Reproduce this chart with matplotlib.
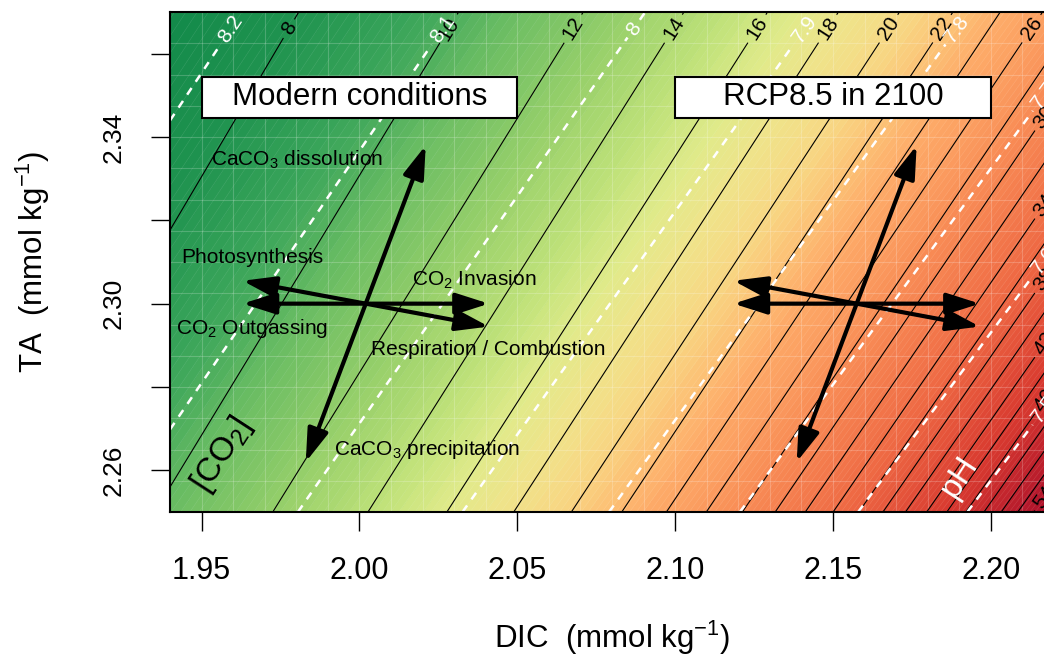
import numpy as np
import matplotlib.pyplot as plt
from matplotlib.colors import Normalize, LinearSegmentedColormap
from matplotlib.patches import Rectangle

plt.rcParams['font.family'] = ['Liberation Sans', 'DejaVu Sans']
plt.rcParams['mathtext.fontset'] = 'custom'
plt.rcParams['mathtext.rm'] = 'Liberation Sans'
plt.rcParams['mathtext.it'] = 'Liberation Sans:italic'

# axis ranges (mmol/kg)
dic_lim = [1.94, 2.22]
ta_lim = [2.25, 2.37]
x_ticks = [1.95, 2.00, 2.05, 2.10, 2.15, 2.20]
y_ticks = [2.26, 2.28, 2.30, 2.32, 2.34, 2.36]
y_tick_labels = ['2.26', '', '2.30', '', '2.34', '']

# seawater state used for the isolines
temp_c = 25.0
salinity = 35.0

co2_levels = np.arange(4, 90, 2)          # umol/kg
ph_levels = [7.5, 7.6, 7.7, 7.8, 7.9, 8.0, 8.1, 8.2, 8.3]
co2_top_labels = [8, 10, 12, 14, 16, 18, 20, 22, 26]
co2_side_labels = [30, 34, 38, 42, 46, 54]
ph_top_labels = [8.2, 8.1, 8.0, 7.9, 7.8]
ph_side_labels = [7.7, 7.6, 7.5]

# colour ramp for pH, red (acid) to green
ramp_ph = [7.38, 7.45, 7.52, 7.61, 7.70, 7.735, 7.77, 7.806, 7.84, 7.878,
           7.913, 7.946, 8.01, 8.07, 8.12, 8.176, 8.23, 8.32]
ramp_colors = ['#a50026', '#b61a2c', '#d8392f', '#ee6843', '#f88b55', '#fb9c5f',
               '#fdaa68', '#fcc276', '#f7d884', '#efe38a', '#e0ea8a', '#c5e47c',
               '#98d06a', '#6bbd63', '#3aa55a', '#1f934f', '#138a4a', '#0b7a40']

# starting points of the process vectors
modern = (2.002, 2.300)
rcp85 = (2.1575, 2.300)

# process vectors (dDIC, dTA) and where their names go
process_names = ['CaCO$_3$ dissolution', 'CaCO$_3$ precipitation', 'Photosynthesis',
                 'Respiration / Combustion', 'CO$_2$ Invasion', 'CO$_2$ Outgassing']
process_ddic = [0.019, -0.019, -0.039, 0.039, 0.039, -0.039]
process_dta = [0.038, -0.038, 0.0055, -0.0055, 0.0, 0.0]
name_dic = [1.9531, 1.9920, 1.9436, 2.0038, 2.0165, 1.9420]
name_ta = [2.3346, 2.2650, 2.3110, 2.2890, 2.3058, 2.2940]

box_titles = ['Modern conditions', 'RCP8.5 in 2100']
box_left = [1.95, 2.10]


def carbonate_system(dic, ta, temp_c, sal):
    """pH (total scale) and CO2* from DIC and TA, both in mol/kg."""
    T = temp_c + 273.15
    lnT = np.log(T)
    sq = np.sqrt(sal)
    k1 = 10 ** -(3633.86 / T - 61.2172 + 9.6777 * lnT - 0.011555 * sal + 0.0001152 * sal ** 2)
    k2 = 10 ** -(471.78 / T + 25.9290 - 3.16967 * lnT - 0.01781 * sal + 0.0001122 * sal ** 2)
    kb = np.exp((-8966.90 - 2890.53 * sq - 77.942 * sal + 1.728 * sal * sq - 0.0996 * sal ** 2) / T
                + 148.0248 + 137.1942 * sq + 1.62142 * sal
                - (24.4344 + 25.085 * sq + 0.2474 * sal) * lnT + 0.053105 * sq * T)
    kw = np.exp(148.9652 - 13847.26 / T - 23.6521 * lnT
                + (118.67 / T - 5.977 + 1.0495 * lnT) * sq - 0.01615 * sal)
    bt = 0.0004157 * sal / 35

    lo = np.full_like(dic, 6.0)
    hi = np.full_like(dic, 10.0)
    for _ in range(50):
        mid = 0.5 * (lo + hi)
        h = 10 ** -mid
        ta_calc = (dic * (k1 * h + 2 * k1 * k2) / (h * h + k1 * h + k1 * k2)
                   + bt * kb / (kb + h) + kw / h - h)
        too_high = ta_calc > ta
        hi = np.where(too_high, mid, hi)
        lo = np.where(too_high, lo, mid)
    ph = 0.5 * (lo + hi)
    h = 10 ** -ph
    co2 = dic * h * h / (h * h + k1 * h + k1 * k2)
    return ph, co2


dic = np.linspace(dic_lim[0], dic_lim[1], 561)
ta = np.linspace(ta_lim[0], ta_lim[1], 241)
D, A = np.meshgrid(dic, ta)
ph, co2 = carbonate_system(D * 1e-3, A * 1e-3, temp_c, salinity)
co2 = co2 * 1e6

fig = plt.figure(figsize=(10.44, 6.59), dpi=100)
ax = fig.add_axes([170 / 1044, 147 / 659, 884 / 1044, 500 / 659])

# pH colour field, drawn in fine bands
ph_lo, ph_hi = ramp_ph[0], ramp_ph[-1]
stops = [(p - ph_lo) / (ph_hi - ph_lo) for p in ramp_ph]
cmap = LinearSegmentedColormap.from_list('ph_ramp', list(zip(stops, ramp_colors)))
norm = Normalize(vmin=ph_lo, vmax=ph_hi)
band_levels = np.arange(7.30, 8.50, 0.005)
ax.contourf(D, A, ph, levels=band_levels, cmap=cmap, norm=norm)
ax.contour(D, A, ph, levels=band_levels, colors='white', linewidths=0.35, alpha=0.15)

# faint cell grid
for x in np.arange(1.94, 2.2201, 0.01):
    ax.axvline(x, color='white', lw=0.8, alpha=0.2)
for y in np.arange(2.25, 2.3701, 0.0075):
    ax.axhline(y, color='white', lw=0.8, alpha=0.2)

co2_cs = ax.contour(D, A, co2, levels=co2_levels, colors='black', linewidths=0.8)
ph_cs = ax.contour(D, A, ph, levels=ph_levels, colors='white', linewidths=1.8,
                   linestyles=[(0, (3.2, 3.0))])


def top_positions(field, levels, ta_row, increasing):
    j = np.argmin(np.abs(ta - ta_row))
    row = field[j]
    if increasing:
        return [(np.interp(L, row, dic), ta_row) for L in levels]
    return [(np.interp(L, row[::-1], dic[::-1]), ta_row) for L in levels]


def side_positions(field, levels, dic_col, increasing):
    i = np.argmin(np.abs(dic - dic_col))
    col = field[:, i]
    if increasing:
        return [(dic_col, np.interp(L, col, ta)) for L in levels]
    return [(dic_col, np.interp(L, col[::-1], ta[::-1])) for L in levels]


fmt = lambda v: f'{v:g}'
co2_pos = (top_positions(co2, co2_top_labels, 2.366, True)
           + side_positions(co2, co2_side_labels, 2.2168, False))
ax.clabel(co2_cs, manual=co2_pos, inline=True, fmt=fmt, fontsize=15, colors='black')
ph_pos = (top_positions(ph, ph_top_labels, 2.366, False)
          + side_positions(ph, ph_side_labels, 2.2168, True))
ax.clabel(ph_cs, manual=ph_pos, inline=True, fmt=fmt, fontsize=15, colors='white')

# process arrows from both starting points
for cx, cy in [modern, rcp85]:
    for ddic, dta in zip(process_ddic, process_dta):
        ax.annotate('', xy=(cx + ddic, cy + dta), xytext=(cx, cy),
                    arrowprops=dict(arrowstyle='-|>,head_length=1.0,head_width=0.32',
                                    mutation_scale=20, lw=3, color='black',
                                    shrinkA=0, shrinkB=0))

for name, x, y in zip(process_names, name_dic, name_ta):
    ax.text(x, y, name, fontsize=15, ha='left', va='center')

ax.text(1.9565, 2.2638, '[CO$_2$]', fontsize=24, rotation=57,
        rotation_mode='anchor', ha='center', va='center')
ax.text(2.190, 2.2585, 'pH', fontsize=24, rotation=57, color='white',
        rotation_mode='anchor', ha='center', va='center')

for title, left in zip(box_titles, box_left):
    ax.add_patch(Rectangle((left, 2.3446), 0.10, 0.0099, facecolor='white',
                           edgecolor='black', lw=1.5, zorder=5))
    ax.text(left + 0.05, 2.3495, title, fontsize=22.5, ha='center', va='center', zorder=6)

ax.set_xlim(dic_lim)
ax.set_ylim(ta_lim)
ax.set_xticks(x_ticks)
ax.set_xticklabels([f'{v:.2f}' for v in x_ticks])
ax.set_yticks(y_ticks)
ax.set_yticklabels(y_tick_labels, rotation=90, va='center')
ax.tick_params(axis='x', labelsize=22, length=14, width=1, pad=18)
ax.tick_params(axis='y', labelsize=19, length=14, width=1, pad=18)
for side in ax.spines.values():
    side.set_linewidth(1.5)

ax.set_xlabel('DIC  (mmol kg$^{-1}$)', fontsize=22.5, labelpad=23)
ax.set_ylabel('TA  (mmol kg$^{-1}$)', fontsize=22.5, labelpad=36)

fig.savefig('out.png', dpi=100)
